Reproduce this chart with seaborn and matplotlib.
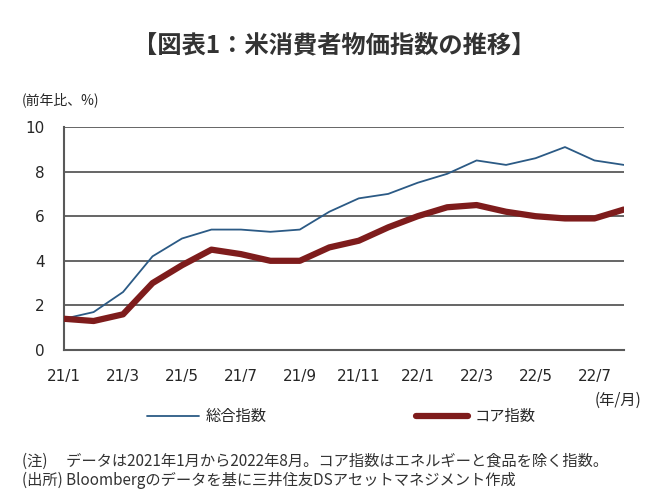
import numpy as np
import pandas as pd
import matplotlib
matplotlib.use("Agg")
import matplotlib.pyplot as plt
import seaborn as sns

months = ["21/1", "21/2", "21/3", "21/4", "21/5", "21/6", "21/7", "21/8", "21/9", "21/10",
          "21/11", "21/12", "22/1", "22/2", "22/3", "22/4", "22/5", "22/6", "22/7", "22/8"]
headline = [1.4, 1.7, 2.6, 4.2, 5.0, 5.4, 5.4, 5.3, 5.4, 6.2,
            6.8, 7.0, 7.5, 7.9, 8.5, 8.3, 8.6, 9.1, 8.5, 8.3]
core = [1.4, 1.3, 1.6, 3.0, 3.8, 4.5, 4.3, 4.0, 4.0, 4.6,
        4.9, 5.5, 6.0, 6.4, 6.5, 6.2, 6.0, 5.9, 5.9, 6.3]
y_ticks = [0, 2, 4, 6, 8, 10]

sns.set_theme(style="white")
plt.rcParams["font.family"] = ["Noto Sans CJK JP", "DejaVu Sans"]

df = pd.DataFrame({"idx": np.arange(len(months)), "総合指数": headline, "コア指数": core})

fig = plt.figure(figsize=(6.68, 5.0), dpi=100)
ax = fig.add_axes([0.096, 0.30, 0.838, 0.446])

grid_color = "#595959"
for v in y_ticks[1:]:
    ax.axhline(v, color=grid_color, lw=1.3, zorder=1)

sns.lineplot(data=df, x="idx", y="総合指数", ax=ax, color="#2B5A85", lw=1.3,
             label="総合指数", zorder=3)
sns.lineplot(data=df, x="idx", y="コア指数", ax=ax, color="#7E1C1C", lw=4.5,
             label="コア指数", zorder=4)

ax.set_xlim(0, len(months) - 1)
ax.set_ylim(0, 10)
ax.set_yticks(y_ticks)
ax.set_yticklabels([str(v) for v in y_ticks], fontsize=11, family="DejaVu Sans")
ax.set_xticks(np.arange(0, len(months), 2))
ax.set_xticklabels(months[::2], fontsize=11, family="DejaVu Sans")
ax.set_xticks(np.arange(0, len(months), 2), minor=True)
ax.tick_params(axis="x", which="major", length=0, pad=14)
ax.tick_params(axis="x", which="minor", direction="in", length=5, color=grid_color, width=1.3)
ax.tick_params(axis="y", length=4, color=grid_color, width=1.3, pad=10)
ax.set_xlabel("")
ax.set_ylabel("")
for s in ["top", "right"]:
    ax.spines[s].set_visible(False)
for s in ["left", "bottom"]:
    ax.spines[s].set_color(grid_color)
    ax.spines[s].set_linewidth(1.5)

ax.legend(loc="upper center", bbox_to_anchor=(0.495, -0.2), ncol=2, frameon=False,
          fontsize=11, handlelength=3.4, columnspacing=9.8, handletextpad=0.4)

fig.text(0.5, 0.91, "【図表1：米消費者物価指数の推移】", ha="center", va="center",
         fontsize=17.5, fontweight="bold", color="#333333")
fig.text(0.033, 0.80, "(前年比、%)", ha="left", va="center", fontsize=10)
fig.text(0.96, 0.20, "(年/月)", ha="right", va="center", fontsize=11)
fig.text(0.033, 0.077, "(注)　 データは2021年1月から2022年8月。コア指数はエネルギーと食品を除く指数。",
         ha="left", va="center", fontsize=11, color="#333333")
fig.text(0.033, 0.040, "(出所) Bloombergのデータを基に三井住友DSアセットマネジメント作成",
         ha="left", va="center", fontsize=11, color="#333333")

fig.savefig("out.png", dpi=100)
plt.close(fig)
